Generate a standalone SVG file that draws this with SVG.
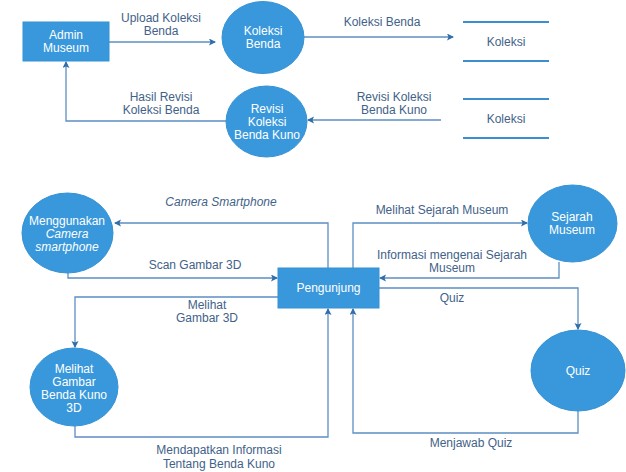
<svg xmlns="http://www.w3.org/2000/svg" width="626" height="472" viewBox="0 0 626 472">
<style>
text{font-family:"Liberation Sans",Arial,sans-serif;font-size:12px;text-anchor:middle}
.lbl{fill:#3f6289}
.nt{fill:#ffffff}
.node{fill:#3898db;stroke:#3592d4;stroke-width:1}
.ln{fill:none;stroke:#5c8fc2;stroke-width:1.3}
.ds{stroke:#3a8fd3;stroke-width:2.2}
</style>
<defs>
<marker id="ah" markerWidth="8" markerHeight="8" refX="6" refY="3.5" orient="auto" markerUnits="userSpaceOnUse">
<path d="M0,0 L7,3.5 L0,7 L1.5,3.5 Z" fill="#2f6ea8"/>
</marker>
</defs>
<rect width="626" height="472" fill="#ffffff"/>

<g id="connectors">
<polyline class="ln" points="109,42 215,42" marker-end="url(#ah)"/>
<polyline class="ln" points="304,37 453,37" marker-end="url(#ah)"/>
<polyline class="ln" points="441,120 308,120" marker-end="url(#ah)"/>
<polyline class="ln" points="226,121 66,121 66,62" marker-end="url(#ah)"/>
<polyline class="ln" points="328,268 328,223 115,223" marker-end="url(#ah)"/>
<polyline class="ln" points="68,273 68,278 277,278" marker-end="url(#ah)"/>
<polyline class="ln" points="278,297 75,297 75,347" marker-end="url(#ah)"/>
<polyline class="ln" points="75,426 75,437 328,437 328,309" marker-end="url(#ah)"/>
<polyline class="ln" points="353,268 353,223 527,223" marker-end="url(#ah)"/>
<polyline class="ln" points="559,262 559,278 380,278" marker-end="url(#ah)"/>
<polyline class="ln" points="379,288 578,288 578,329" marker-end="url(#ah)"/>
<polyline class="ln" points="578,411 578,433 353,433 353,309" marker-end="url(#ah)"/>
<text class="lbl" x="161" y="22">Upload Koleksi</text>
<text class="lbl" x="161" y="35">Benda</text>
<text class="lbl" x="382" y="26">Koleksi Benda</text>
<text class="lbl" x="161" y="101">Hasil Revisi</text>
<text class="lbl" x="161" y="114">Koleksi Benda</text>
<text class="lbl" x="394" y="101">Revisi Koleksi</text>
<text class="lbl" x="394" y="114">Benda Kuno</text>
<text class="lbl" x="221" y="206" font-style="italic">Camera Smartphone</text>
<text class="lbl" x="195" y="269">Scan Gambar 3D</text>
<text class="lbl" x="207" y="309">Melihat</text>
<text class="lbl" x="207" y="322">Gambar 3D</text>
<text class="lbl" x="219" y="454">Mendapatkan Informasi</text>
<text class="lbl" x="219" y="468">Tentang Benda Kuno</text>
<text class="lbl" x="442" y="214">Melihat Sejarah Museum</text>
<text class="lbl" x="452" y="259">Informasi mengenai Sejarah</text>
<text class="lbl" x="452" y="272">Museum</text>
<text class="lbl" x="452" y="302">Quiz</text>
<text class="lbl" x="471" y="447">Menjawab Quiz</text>
</g>

<g id="admin-museum">
<rect class="node" x="23" y="22" width="86" height="39"/>
<text class="nt" x="66" y="39">Admin</text>
<text class="nt" x="66" y="52">Museum</text>
</g>

<g id="koleksi-benda">
<ellipse class="node" cx="263" cy="37.5" rx="41" ry="36"/>
<text class="nt" x="263" y="35">Koleksi</text>
<text class="nt" x="263" y="48">Benda</text>
</g>

<g id="revisi-koleksi">
<ellipse class="node" cx="266.5" cy="121.5" rx="40.5" ry="35.5"/>
<text class="nt" x="267" y="113">Revisi</text>
<text class="nt" x="267" y="126">Koleksi</text>
<text class="nt" x="267" y="139">Benda Kuno</text>
</g>

<g id="store-koleksi-1">
<line class="ds" x1="463" y1="22" x2="549" y2="22"/>
<line class="ds" x1="463" y1="61" x2="549" y2="61"/>
<text class="lbl" x="506" y="46">Koleksi</text>
</g>

<g id="store-koleksi-2">
<line class="ds" x1="463" y1="99" x2="549" y2="99"/>
<line class="ds" x1="463" y1="138" x2="549" y2="138"/>
<text class="lbl" x="506" y="123">Koleksi</text>
</g>

<g id="menggunakan-camera">
<ellipse class="node" cx="67.5" cy="233" rx="45.5" ry="40"/>
<text class="nt" x="67" y="225">Menggunakan</text>
<text class="nt" x="67" y="238" font-style="italic">Camera</text>
<text class="nt" x="67" y="251" font-style="italic">smartphone</text>
</g>

<g id="pengunjung">
<rect class="node" x="278" y="268" width="101" height="40"/>
<text class="nt" x="328.5" y="292">Pengunjung</text>
</g>

<g id="melihat-gambar">
<ellipse class="node" cx="74" cy="387" rx="44" ry="39"/>
<text class="nt" x="74" y="373">Melihat</text>
<text class="nt" x="74" y="386">Gambar</text>
<text class="nt" x="74" y="399">Benda Kuno</text>
<text class="nt" x="74" y="412">3D</text>
</g>

<g id="sejarah-museum">
<ellipse class="node" cx="572.5" cy="223.5" rx="44.5" ry="38.5"/>
<text class="nt" x="572" y="221">Sejarah</text>
<text class="nt" x="572" y="234">Museum</text>
</g>

<g id="quiz">
<ellipse class="node" cx="578" cy="370.5" rx="47" ry="40.5"/>
<text class="nt" x="578" y="375">Quiz</text>
</g>
</svg>
